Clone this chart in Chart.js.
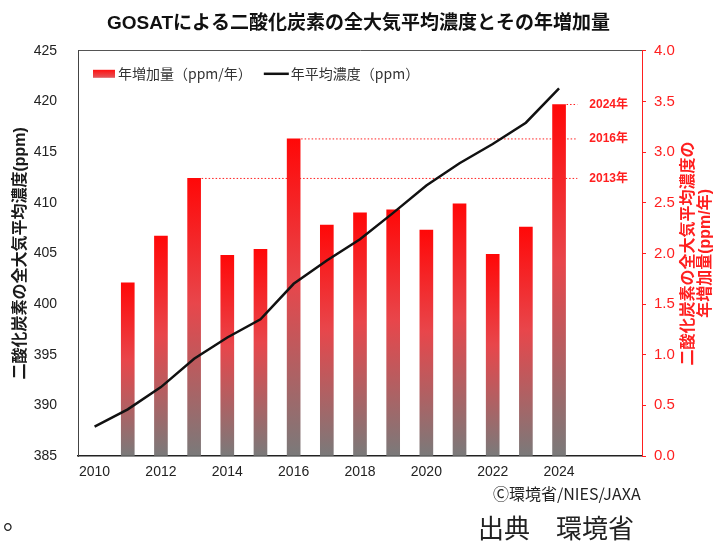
<!DOCTYPE html>
<html lang="ja">
<head>
<meta charset="utf-8">
<script src="https://cdn.jsdelivr.net/npm/chart.js@4.4.1/dist/chart.umd.min.js"></script>
<style>
  html, body { margin: 0; padding: 0; background: #fff; }
  #wrap { position: relative; width: 717px; height: 542px; overflow: hidden; }
  #chart { position: absolute; left: 0; top: 0; }
  .note { position: absolute; font-family: 'Noto Sans CJK JP', sans-serif; color: #222; white-space: nowrap; line-height: 1; }
  #credit { left: 493px; top: 485px; font-size: 16px; }
  #source { left: 478px; top: 514px; font-size: 26px; }
  #dot { left: 3px; top: 506px; font-size: 25px; }
</style>
</head>
<body>
<div id="wrap">
  <canvas id="chart" width="717" height="542"></canvas>
  <div class="note" id="credit">Ⓒ環境省/NIES/JAXA</div>
  <div class="note" id="source">出典　環境省</div>
  <div class="note" id="dot">。</div>
</div>
<script>
// data
const years = ['2010', '2011', '2012', '2013', '2014', '2015', '2016', '2017',
  '2018', '2019', '2020', '2021', '2022', '2023', '2024'];
const axisLabels = years.concat(['2025', '2026']);   // empty room on the right for the notes
const shownYears = ['2010', '2012', '2014', '2016', '2018', '2020', '2022', '2024'];

const concentration = [387.9, 389.6, 391.8, 394.6, 396.7, 398.5, 402.0, 404.3,
  406.4, 409.0, 411.7, 413.9, 415.8, 417.9, 421.3];
const increase = [null, 1.71, 2.17, 2.74, 1.98, 2.04, 3.13, 2.28,
  2.40, 2.43, 2.23, 2.49, 1.99, 2.26, 3.47];

const concTicks = [385, 390, 395, 400, 405, 410, 415, 420, 425];
const incTicks = [0, 0.5, 1.0, 1.5, 2.0, 2.5, 3.0, 3.5, 4.0];
const markedYears = ['2024', '2016', '2013'];

const chartTitle = 'GOSATによる二酸化炭素の全大気平均濃度とその年増加量';
const leftTitle = '二酸化炭素の全大気平均濃度(ppm)';
const rightTitle = ['二酸化炭素の全大気平均濃度の', '年増加量(ppm/年)'];
const barLabel = '年増加量（ppm/年）';
const lineLabel = '年平均濃度（ppm）';

const RED = '#ff1f1f';
const CJK = "'Liberation Sans', 'Noto Sans CJK JP', sans-serif";

function barFill(c) {
  const chart = c.chart;
  const y1 = chart.scales.y1;
  if (c.type !== 'data' || !y1 || c.raw == null) return '#f0262b';
  const top = y1.getPixelForValue(c.raw);
  const base = y1.getPixelForValue(0);
  if (!isFinite(top) || !isFinite(base) || top === base) return '#f0262b';
  const g = chart.ctx.createLinearGradient(0, top, 0, base);
  g.addColorStop(0, '#ff0808');
  g.addColorStop(0.45, '#e8464b');
  g.addColorStop(1, '#7a7a7a');
  return g;
}

// legend sits inside the plot, top left
const innerLegend = {
  id: 'innerLegend',
  afterDraw(chart) {
    const { ctx, chartArea } = chart;
    let x = chartArea.left + 15;
    const y = chartArea.top + 23;
    ctx.save();
    ctx.font = "14px 'Noto Sans CJK JP'";
    ctx.textBaseline = 'middle';
    const g = ctx.createLinearGradient(0, y - 4, 0, y + 4);
    g.addColorStop(0, '#ff1010');
    g.addColorStop(1, '#e2585c');
    ctx.fillStyle = g;
    ctx.fillRect(x, y - 4, 22, 8);
    x += 25;
    ctx.fillStyle = '#333';
    ctx.fillText(barLabel, x, y);
    x += ctx.measureText(barLabel).width + 12;
    ctx.strokeStyle = '#111';
    ctx.lineWidth = 2.5;
    ctx.beginPath();
    ctx.moveTo(x, y);
    ctx.lineTo(x + 25, y);
    ctx.stroke();
    x += 27;
    ctx.fillText(lineLabel, x, y);
    ctx.restore();
  }
};

// dotted lines from the record years over to their notes
const recordLines = {
  id: 'recordLines',
  beforeDatasetsDraw(chart) {
    const { ctx } = chart;
    const x = chart.scales.x, y1 = chart.scales.y1;
    const meta = chart.getDatasetMeta(0);
    const step = x.getPixelForValue(1) - x.getPixelForValue(0);
    const endX = x.getPixelForValue(axisLabels.indexOf(years[years.length - 1])) + step * 0.55;
    ctx.save();
    ctx.strokeStyle = RED;
    ctx.fillStyle = RED;
    ctx.lineWidth = 1;
    ctx.font = "bold 12px " + CJK;
    ctx.textBaseline = 'middle';
    markedYears.forEach(yr => {
      const i = years.indexOf(yr);
      const bar = meta.data[i];
      const yPx = y1.getPixelForValue(increase[i]);
      ctx.setLineDash([1.5, 2]);
      ctx.beginPath();
      ctx.moveTo(bar.x + bar.width / 2 + 1, yPx);
      ctx.lineTo(endX, yPx);
      ctx.stroke();
      ctx.setLineDash([]);
      ctx.fillText(yr + '年', endX + 12, yPx);
    });
    ctx.restore();
  }
};

// right axis title reads bottom to top, two lines
const rightAxisTitle = {
  id: 'rightAxisTitle',
  afterDraw(chart) {
    const { ctx, chartArea } = chart;
    const y1 = chart.scales.y1;
    const cy = (chartArea.top + chartArea.bottom) / 2;
    ctx.save();
    ctx.translate(y1.right - 28, cy);
    ctx.rotate(-Math.PI / 2);
    ctx.textAlign = 'center';
    ctx.textBaseline = 'middle';
    ctx.fillStyle = RED;
    ctx.font = "bold 16px " + CJK;
    ctx.fillText(rightTitle[0], 0, 0);
    ctx.fillText(rightTitle[1], 0, 17);
    ctx.restore();
  }
};

new Chart(document.getElementById('chart'), {
  type: 'bar',
  data: {
    labels: axisLabels,
    datasets: [{
      type: 'bar',
      label: barLabel,
      data: increase,
      yAxisID: 'y1',
      backgroundColor: barFill,
      barThickness: 13,
      order: 1
    }, {
      type: 'line',
      label: lineLabel,
      data: concentration,
      yAxisID: 'y',
      borderColor: '#111',
      borderWidth: 2.5,
      pointRadius: 0,
      tension: 0,
      order: 0
    }]
  },
  options: {
    responsive: false,
    animation: false,
    layout: { padding: { left: 0, right: 0, top: 0, bottom: 56 } },
    plugins: {
      legend: { display: false },
      tooltip: { enabled: false },
      title: {
        display: true,
        text: chartTitle,
        color: '#111',
        font: { family: CJK, size: 19, weight: 'bold' },
        padding: { top: 12, bottom: 16 }
      }
    },
    scales: {
      x: {
        type: 'category',
        offset: true,
        grid: { display: false, drawTicks: false },
        border: { color: '#222', width: 1.5 },
        ticks: {
          autoSkip: false,
          maxRotation: 0,
          padding: 8,
          color: '#222',
          font: { family: 'Liberation Sans', size: 14 },
          callback(v) {
            const l = this.getLabelForValue(v);
            return shownYears.includes(l) ? l : '';
          }
        },
        afterFit(s) { s.height = 30; }
      },
      x2: {
        type: 'linear',
        position: 'top',
        min: 0,
        max: 1,
        grid: { display: false, drawTicks: false },
        ticks: { display: false },
        border: { color: '#555' },
        afterFit(s) { s.height = 0; }
      },
      y: {
        position: 'left',
        min: concTicks[0],
        max: concTicks[concTicks.length - 1],
        ticks: {
          stepSize: concTicks[1] - concTicks[0],
          padding: 21,
          color: '#222',
          font: { family: 'Liberation Sans', size: 14 }
        },
        grid: { display: false, drawTicks: false },
        border: { color: '#444' },
        title: {
          display: true,
          text: leftTitle,
          color: '#1a1a1a',
          font: { family: CJK, size: 16, weight: 'bold' },
          padding: { top: 11, bottom: 4 }
        },
        afterFit(s) { s.width = 78; }
      },
      y1: {
        position: 'right',
        min: incTicks[0],
        max: incTicks[incTicks.length - 1],
        ticks: {
          stepSize: incTicks[1] - incTicks[0],
          padding: 8,
          color: RED,
          font: { family: 'Liberation Sans', size: 15 },
          callback: v => v.toFixed(1)
        },
        grid: { drawOnChartArea: false, drawTicks: true, tickLength: 4, color: RED },
        border: { color: RED },
        afterFit(s) { s.width = 75; }
      }
    }
  },
  plugins: [recordLines, innerLegend, rightAxisTitle]
});
</script>
</body>
</html>
